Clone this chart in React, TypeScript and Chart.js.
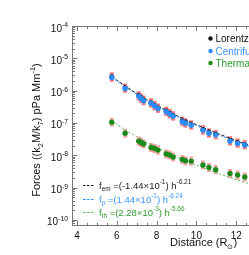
import React, { useEffect, useRef } from 'react';
import { Chart, registerables } from 'chart.js';

Chart.register(...registerables);

// ---- data ----
const distances = [5.75, 6.42, 7.1, 7.22, 7.35, 7.72, 7.9, 8.07, 8.48, 8.66, 8.83, 9.29, 9.45, 9.74, 10.33, 10.63, 10.97, 11.69, 12.07, 12.43];
const lorentz = [2.7e-6, 1.23e-6, 7.1e-7, 6.0e-7, 5.1e-7, 4.25e-7, 3.5e-7, 2.93e-7, 2.33e-7, 1.99e-7, 1.69e-7, 1.15e-7, 1.02e-7, 8.9e-8, 6.25e-8, 5.0e-8, 4.5e-8, 2.87e-8, 2.44e-8, 2.18e-8];
const centrifugal = [2.57e-6, 1.17e-6, 6.8e-7, 5.75e-7, 4.9e-7, 4.07e-7, 3.39e-7, 2.82e-7, 2.24e-7, 1.91e-7, 1.62e-7, 1.1e-7, 9.8e-8, 8.5e-8, 6.0e-8, 4.8e-8, 4.3e-8, 2.75e-8, 2.34e-8, 2.09e-8];
const thermal = [1.05e-7, 4.8e-8, 2.75e-8, 2.51e-8, 2.24e-8, 1.74e-8, 1.62e-8, 1.45e-8, 1.1e-8, 1.02e-8, 8.9e-9, 7.4e-9, 6.8e-9, 6.6e-9, 5.0e-9, 4.2e-9, 3.6e-9, 2.75e-9, 2.45e-9, 2.14e-9];
const errDexUpper = [0.11, 0.11, 0.11, 0.11, 0.11, 0.11, 0.11, 0.11, 0.11, 0.11, 0.11, 0.11, 0.11, 0.11, 0.11, 0.11, 0.11, 0.11, 0.11, 0.11];
const errDexThermal = [0.11, 0.11, 0.11, 0.11, 0.11, 0.11, 0.11, 0.11, 0.11, 0.11, 0.11, 0.11, 0.11, 0.11, 0.11, 0.11, 0.11, 0.11, 0.11, 0.11];

const seriesNames = ['Lorentz', 'Centrifugal', 'Thermal'];
const seriesColors = ['#111111', '#2a8cff', '#1a8a1a'];
const seriesTextColors = ['#111111', '#3a96ff', '#2e9e2e'];

// fits given in the chart's own legend
const fitSubs = ['em', 'p', 'th'];
const fitCoefText = ['-1.44×10', '1.44×10', '2.28×10'];
const fitCoefExpText = ['-1', '-1', '-3'];
const fitExpText = ['-6.21', '-6.24', '-5.66'];
const fitCoef = [0.144, 0.144, 2.28e-3];
const fitExp = [-6.21, -6.24, -5.66];
const fitColors = ['#111111', '#2a8cff', '#55bb55'];
const fitX = [5.75, 6, 6.5, 7, 7.5, 8, 8.5, 9, 9.5, 10, 10.5, 11, 11.5, 12, 12.5, 13, 13.5, 14];

const xMajorTicks = [4, 6, 8, 10, 12, 14];
const xTickLabels = ['4', '6', '8', '10', '12', '14'];
const yDecades = [-4, -5, -6, -7, -8, -9, -10];

const FONT = '"Liberation Sans", Arial, sans-serif';

type Part = [string, 'n' | 'sub' | 'sup'];

function richWidth(ctx: CanvasRenderingContext2D, parts: Part[], size: number) {
  let w = 0;
  for (const [t, k] of parts) {
    ctx.font = `${k === 'n' ? size : size * 0.68}px ${FONT}`;
    w += ctx.measureText(t).width;
  }
  return w;
}

function drawRich(ctx: CanvasRenderingContext2D, x: number, y: number, parts: Part[], size: number, color: string, align: 'left' | 'right' | 'center' = 'left') {
  const w = richWidth(ctx, parts, size);
  let cx = align === 'right' ? x - w : align === 'center' ? x - w / 2 : x;
  ctx.fillStyle = color;
  ctx.textAlign = 'left';
  ctx.textBaseline = 'alphabetic';
  for (const [t, k] of parts) {
    const sz = k === 'n' ? size : size * 0.68;
    ctx.font = `${sz}px ${FONT}`;
    const dy = k === 'sub' ? size * 0.3 : k === 'sup' ? -size * 0.45 : 0;
    ctx.fillText(t, cx, y + dy);
    cx += ctx.measureText(t).width;
  }
}

const errorBars = {
  id: 'errorBars',
  beforeDatasetsDraw(chart: any) {
    const { ctx, scales } = chart;
    const xs = scales.x, ys = scales.y;
    const groups: [number[], number[]][] = [
      [lorentz, errDexUpper],
      [centrifugal, errDexUpper],
      [thermal, errDexThermal],
    ];
    ctx.save();
    ctx.strokeStyle = 'rgba(240,60,60,0.45)';
    ctx.lineWidth = 2;
    for (const [vals, errs] of groups) {
      vals.forEach((v, i) => {
        const px = xs.getPixelForValue(distances[i]);
        const hi = ys.getPixelForValue(v * Math.pow(10, errs[i]));
        const lo = ys.getPixelForValue(v / Math.pow(10, errs[i]));
        ctx.beginPath();
        ctx.moveTo(px, hi);
        ctx.lineTo(px, lo);
        ctx.moveTo(px - 2, hi);
        ctx.lineTo(px + 2, hi);
        ctx.moveTo(px - 2, lo);
        ctx.lineTo(px + 2, lo);
        ctx.stroke();
      });
    }
    ctx.restore();
  },
};

const frame = {
  id: 'frame',
  afterDraw(chart: any) {
    const { ctx, chartArea, scales } = chart;
    const xs = scales.x, ys = scales.y;
    const L = Math.round(chartArea.left) + 0.5;
    const R = Math.round(chartArea.right) + 0.5;
    const T = Math.round(chartArea.top) + 0.5;
    const B = Math.round(chartArea.bottom) + 0.5;
    ctx.save();
    ctx.strokeStyle = '#777';
    ctx.lineWidth = 1;
    ctx.beginPath();
    ctx.rect(L, T, R - L, B - T);
    ctx.stroke();

    ctx.beginPath();
    for (let v = 4; v <= 14.001; v += 0.5) {
      const px = Math.round(xs.getPixelForValue(v)) + 0.5;
      const major = xMajorTicks.includes(v);
      const len = major ? 4.5 : 2.5;
      ctx.moveTo(px, B);
      ctx.lineTo(px, B - len);
      ctx.moveTo(px, T);
      ctx.lineTo(px, T + len);
    }
    const yMin = ys.min, yMax = ys.max;
    for (let d = -11; d <= -4; d++) {
      for (let m = 1; m <= 9; m++) {
        const v = m * Math.pow(10, d);
        if (v < yMin * 0.999 || v > yMax * 1.001) continue;
        const py = Math.round(ys.getPixelForValue(v)) + 0.5;
        const len = m === 1 ? 5 : 2.5;
        ctx.moveTo(L, py);
        ctx.lineTo(L + len, py);
        ctx.moveTo(R, py);
        ctx.lineTo(R - len, py);
      }
    }
    ctx.stroke();

    yDecades.forEach((d) => {
      const py = ys.getPixelForValue(Math.pow(10, d));
      drawRich(ctx, 68, py + 5.5, [['10', 'n'], [String(d), 'sup']], 10, '#111', 'right');
    });
    xMajorTicks.forEach((v, i) => {
      const px = xs.getPixelForValue(v);
      drawRich(ctx, px, 238.5, [[xTickLabels[i], 'n']], 10, '#111', 'center');
    });

    drawRich(ctx, 170, 246, [['Distance (R', 'n'], ['⊙', 'sub'], [')', 'n']], 11, '#111', 'left');
    ctx.save();
    ctx.translate(40, 130);
    ctx.rotate(-Math.PI / 2);
    drawRich(ctx, 0, 0, [['Forces ((k', 'n'], ['2', 'sub'], ['M/k', 'n'], ['7', 'sub'], [') pPa Mm', 'n'], ['-1', 'sup'], [')', 'n']], 11, '#111', 'center');
    ctx.restore();

    const legY = [38.5, 51, 63];
    seriesNames.forEach((name, i) => {
      ctx.fillStyle = seriesColors[i];
      ctx.beginPath();
      ctx.arc(210.5, legY[i], 2.2, 0, Math.PI * 2);
      ctx.fill();
      drawRich(ctx, 215.5, legY[i] + 3.6, [[name, 'n']], 10, seriesTextColors[i], 'left');
    });

    const fitY = [188.5, 202.5, 215.5];
    fitSubs.forEach((s, i) => {
      ctx.save();
      ctx.strokeStyle = fitColors[i];
      ctx.lineWidth = 1;
      ctx.setLineDash([2.5, 1.5]);
      ctx.beginPath();
      ctx.moveTo(83, fitY[i] - 3);
      ctx.lineTo(94, fitY[i] - 3);
      ctx.stroke();
      ctx.restore();
      drawRich(ctx, 99, fitY[i], [
        ['f', 'n'], [s, 'sub'], [' =(' + fitCoefText[i], 'n'], [fitCoefExpText[i], 'sup'], [') h', 'n'], [fitExpText[i], 'sup'],
      ], 9.5, seriesTextColors[i] === '#111111' ? '#222' : seriesTextColors[i], 'left');
    });
    ctx.restore();
  },
};

function pts(vals: number[]) {
  return vals.map((v, i) => ({ x: distances[i], y: v }));
}
function fitPts(i: number) {
  return fitX.map((x) => ({ x, y: fitCoef[i] * Math.pow(x, fitExp[i]) }));
}

export default function App() {
  const ref = useRef<HTMLCanvasElement>(null);
  useEffect(() => {
    if (!ref.current) return;
    const chart = new Chart(ref.current, {
      type: 'scatter',
      data: {
        datasets: [
          { label: seriesNames[1], data: pts(centrifugal), backgroundColor: seriesColors[1], pointRadius: 2.7, pointBorderWidth: 0 },
          { label: seriesNames[0], data: pts(lorentz), backgroundColor: seriesColors[0], pointRadius: 2.5, pointBorderWidth: 0 },
          { label: seriesNames[2], data: pts(thermal), backgroundColor: seriesColors[2], pointRadius: 2.7, pointBorderWidth: 0 },
          { label: 'fp', data: fitPts(1), showLine: true, borderColor: fitColors[1], borderWidth: 1, borderDash: [2, 2], pointRadius: 0, fill: false },
          { label: 'fem', data: fitPts(0), showLine: true, borderColor: fitColors[0], borderWidth: 1, borderDash: [3, 2], pointRadius: 0, fill: false },
          { label: 'fth', data: fitPts(2), showLine: true, borderColor: fitColors[2], borderWidth: 1, borderDash: [2, 2], pointRadius: 0, fill: false },
        ] as any,
      },
      options: {
        animation: false,
        responsive: false,
        devicePixelRatio: 1,
        layout: { padding: { left: 72, top: 26, right: 14, bottom: 30 } },
        plugins: { legend: { display: false }, tooltip: { enabled: false } },
        scales: {
          x: { type: 'linear', min: 3.75, max: 14, display: false },
          y: { type: 'logarithmic', min: Math.pow(10, -10.155), max: 1e-4, display: false },
        },
      } as any,
      plugins: [errorBars, frame],
    });
    return () => chart.destroy();
  }, []);
  return (
    <div style={{ position: 'fixed', left: 0, top: 0, width: 249, height: 255, overflow: 'hidden', background: '#fff' }}>
      <canvas ref={ref} width={290} height={255} style={{ width: 290, height: 255, display: 'block' }} />
    </div>
  );
}
